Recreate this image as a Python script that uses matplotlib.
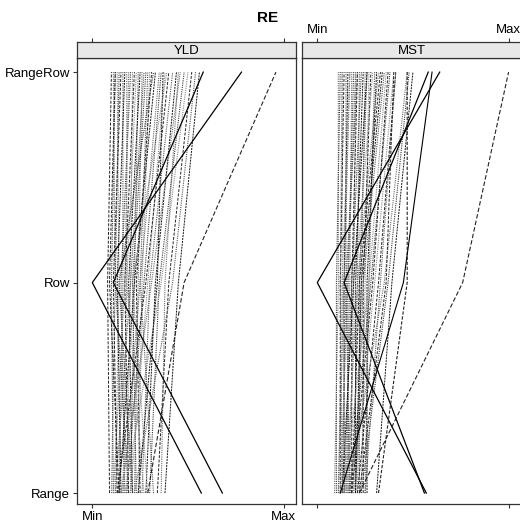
import matplotlib
matplotlib.use("Agg")
import matplotlib.pyplot as plt

plt.rcParams['font.family'] = ['Liberation Sans', 'DejaVu Sans']

title = "RE"
panels = ["YLD", "MST"]
levels = ["Range", "Row", "RangeRow"]
x_ticklabels = ["Min", "Max"]

# YLD: scaled RE values (0 = Min, 1 = Max) at Range, Row, RangeRow
yld_range = [0.10, 0.11, 0.12, 0.13, 0.14, 0.15, 0.16, 0.17, 0.18, 0.19,
             0.20, 0.21, 0.22, 0.23, 0.24, 0.25, 0.12, 0.14, 0.16, 0.18,
             0.20, 0.13, 0.26, 0.28, 0.15, 0.30, 0.17, 0.34, 0.22, 0.38,
             0.11, 0.19, 0.27, 0.09, 0.32, 0.24, 0.36, 0.21, 0.29, 0.14,
             0.57, 0.68, 0.29]
yld_row = [0.12, 0.10, 0.14, 0.11, 0.16, 0.13, 0.18, 0.15, 0.20, 0.17,
           0.22, 0.19, 0.24, 0.21, 0.26, 0.23, 0.20, 0.22, 0.25, 0.27,
           0.29, 0.28, 0.30, 0.33, 0.31, 0.35, 0.36, 0.40, 0.42, 0.45,
           0.17, 0.12, 0.18, 0.08, 0.25, 0.34, 0.38, 0.14, 0.21, 0.09,
           0.00, 0.11, 0.48]
yld_rangerow = [0.11, 0.12, 0.13, 0.15, 0.16, 0.17, 0.18, 0.20, 0.21, 0.22,
                0.24, 0.25, 0.26, 0.28, 0.30, 0.31, 0.27, 0.33, 0.35, 0.36,
                0.38, 0.40, 0.42, 0.44, 0.46, 0.48, 0.50, 0.52, 0.54, 0.56,
                0.19, 0.14, 0.23, 0.10, 0.29, 0.37, 0.45, 0.32, 0.39, 0.12,
                0.78, 0.58, 0.96]

# MST
mst_range = [0.09, 0.10, 0.11, 0.12, 0.13, 0.14, 0.15, 0.16, 0.17, 0.18,
             0.19, 0.20, 0.21, 0.22, 0.23, 0.24, 0.25, 0.26, 0.12, 0.14,
             0.16, 0.18, 0.20, 0.13, 0.15, 0.17, 0.19, 0.21, 0.11, 0.31,
             0.16, 0.23, 0.14, 0.18, 0.25, 0.20, 0.13, 0.17, 0.15, 0.22,
             0.57, 0.56, 0.22, 0.32, 0.12]
mst_row = [0.11, 0.10, 0.13, 0.12, 0.15, 0.14, 0.17, 0.16, 0.19, 0.18,
           0.21, 0.20, 0.23, 0.22, 0.25, 0.24, 0.27, 0.26, 0.16, 0.18,
           0.20, 0.22, 0.24, 0.19, 0.21, 0.28, 0.30, 0.32, 0.14, 0.39,
           0.35, 0.37, 0.27, 0.29, 0.33, 0.23, 0.12, 0.15, 0.13, 0.36,
           0.00, 0.14, 0.76, 0.47, 0.45]
mst_rangerow = [0.11, 0.12, 0.13, 0.14, 0.15, 0.16, 0.18, 0.19, 0.20, 0.21,
                0.22, 0.24, 0.25, 0.26, 0.27, 0.28, 0.30, 0.31, 0.20, 0.23,
                0.29, 0.33, 0.35, 0.26, 0.32, 0.38, 0.40, 0.41, 0.17, 0.50,
                0.47, 0.48, 0.36, 0.37, 0.41, 0.34, 0.13, 0.21, 0.17, 0.40,
                0.64, 0.58, 1.00, 0.47, 0.60]

data = {
    "YLD": (yld_range, yld_row, yld_rangerow),
    "MST": (mst_range, mst_row, mst_rangerow),
}

# style cycle (mostly dotted grey lines, some darker dashed)
style_cycle = [
    dict(color="#6a6a6a", ls=(0, (1, 1)), lw=0.8),
    dict(color="#3a3a3a", ls=(0, (1, 1)), lw=0.8),
    dict(color="#888888", ls=(0, (1, 1)), lw=0.8),
    dict(color="#222222", ls=(0, (3, 1.5)), lw=0.7),
    dict(color="#555555", ls=(0, (1, 1)), lw=0.8),
    dict(color="#111111", ls=(0, (2, 1)), lw=0.7),
]
special = {
    "YLD": [dict(color="black", ls="-", lw=0.9),
            dict(color="black", ls="-", lw=0.9),
            dict(color="#222222", ls=(0, (4, 2)), lw=0.8)],
    "MST": [dict(color="black", ls="-", lw=0.9),
            dict(color="black", ls="-", lw=0.9),
            dict(color="#222222", ls=(0, (4, 2)), lw=0.8),
            dict(color="#222222", ls=(0, (3, 1.5)), lw=0.8),
            dict(color="black", ls="-", lw=0.8)],
}

W, H = 520, 523
fig = plt.figure(figsize=(W / 100, H / 100), dpi=100)

xlim = (-0.08, 1.065)
ylim = (0.948, 3.067)
ypos = [1, 2, 3]

panel_left = [77, 302]
panel_w = 219
plot_top, plot_bot = 58, 504
strip_top = 42

fig.text(268 / W, 1 - 18 / H, title, ha="center", va="center",
         fontsize=11, fontweight="bold")

for i, name in enumerate(panels):
    l = panel_left[i] / W
    ax = fig.add_axes([l, 1 - plot_bot / H, panel_w / W, (plot_bot - plot_top) / H])
    sax = fig.add_axes([l, 1 - plot_top / H, panel_w / W, (plot_top - strip_top) / H])
    r, rw, rr = data[name]
    nsp = len(special[name])
    n = len(r)
    for k in range(n):
        if k >= n - nsp:
            st = special[name][k - (n - nsp)]
        else:
            st = style_cycle[k % len(style_cycle)]
        ax.plot([r[k], rw[k], rr[k]], ypos, color=st["color"],
                linestyle=st["ls"], linewidth=st["lw"])
    ax.set_xlim(*xlim)
    ax.set_ylim(*ylim)
    ax.set_xticks([0, 1])
    for sp in ax.spines.values():
        sp.set_color("#333333")
        sp.set_linewidth(0.9)
    ax.tick_params(axis="both", length=3, width=0.8, color="#333333",
                   labelsize=9.5, pad=2, direction="out")
    if i == 0:
        ax.set_yticks(ypos)
        ax.set_yticklabels(levels)
        ax.set_xticklabels(x_ticklabels)
    else:
        ax.set_yticks([])
        ax.set_xticklabels([])

    # strip
    sax.set_facecolor("#e8e8e8")
    sax.set_xlim(*xlim)
    sax.set_ylim(0, 1)
    sax.set_yticks([])
    sax.set_xticks([0, 1])
    sax.xaxis.set_ticks_position("top")
    sax.tick_params(axis="x", length=3, width=0.8, color="#333333",
                    labelsize=9.5, pad=1, direction="out")
    if i == 1:
        sax.set_xticklabels(x_ticklabels)
    else:
        sax.set_xticklabels([])
    for sp in sax.spines.values():
        sp.set_color("#333333")
        sp.set_linewidth(0.9)
    sax.text(0.5, 0.45, name, transform=sax.transAxes, ha="center",
             va="center", fontsize=9.5)

fig.savefig("out.png", dpi=100)
